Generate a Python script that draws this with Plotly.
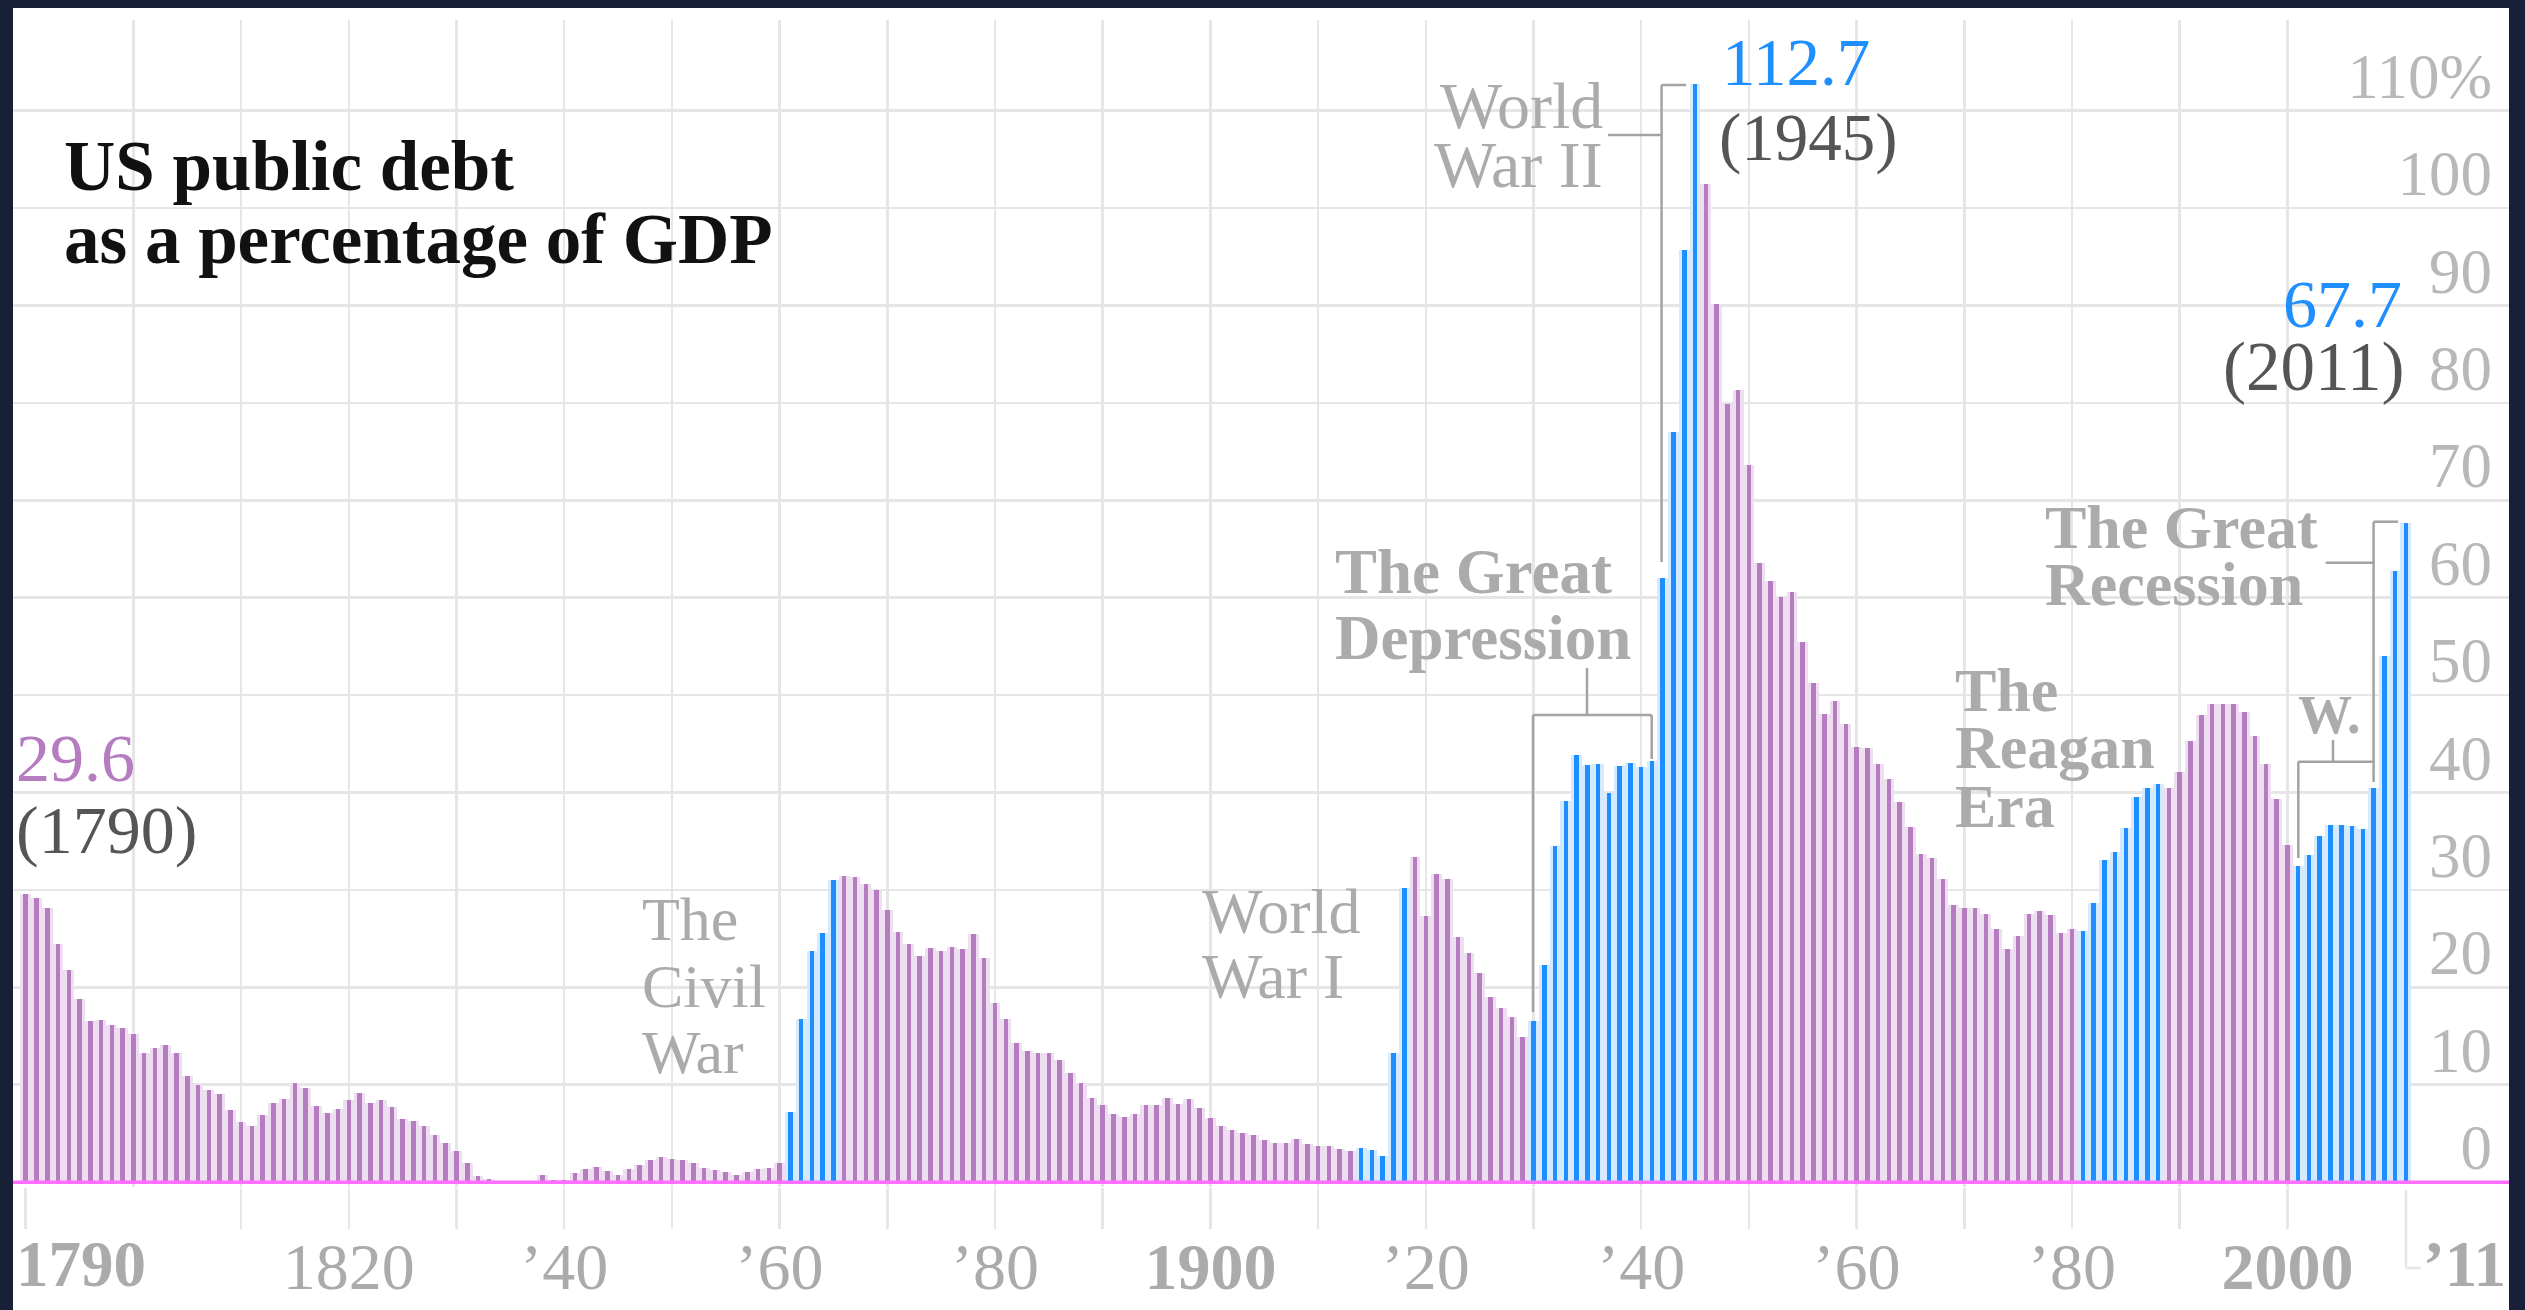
import plotly.graph_objects as go

# ---------------- data ----------------
years = list(range(1790, 2012))

debt_1790_1839 = [29.6, 29.2, 28.1, 24.4, 21.8, 18.8, 16.5, 16.6, 16.1, 15.8,
                  15.2, 13.3, 13.8, 14.1, 13.3, 10.9, 10.0, 9.5, 9.0, 7.4,
                  6.2, 5.8, 6.9, 8.1, 8.5, 10.2, 9.7, 7.8, 7.1, 7.5,
                  8.4, 9.2, 8.1, 8.4, 7.7, 6.5, 6.3, 5.8, 4.8, 4.0,
                  3.2, 2.0, 0.6, 0.3, 0.1, 0.0, 0.0, 0.1, 0.7, 0.2]
debt_1840_1889 = [0.2, 0.9, 1.3, 1.6, 1.1, 0.7, 1.3, 1.8, 2.3, 2.6,
                  2.4, 2.3, 2.0, 1.5, 1.2, 1.0, 0.7, 1.0, 1.3, 1.5,
                  2.0, 7.2, 16.8, 23.7, 25.6, 31.0, 31.4, 31.3, 30.6, 30.0,
                  27.9, 25.7, 24.4, 23.2, 24.0, 23.7, 24.1, 23.9, 25.5, 23.0,
                  18.4, 16.8, 14.3, 13.5, 13.3, 13.3, 12.5, 11.2, 10.2, 8.6]
debt_1890_1939 = [7.9, 7.0, 6.7, 7.0, 7.9, 7.9, 8.6, 8.0, 8.5, 7.6,
                  6.6, 5.8, 5.4, 5.0, 4.8, 4.3, 4.0, 4.0, 4.4, 3.9,
                  3.7, 3.7, 3.4, 3.2, 3.5, 3.3, 2.7, 13.3, 30.2, 33.4,
                  27.3, 31.6, 31.1, 25.2, 23.5, 21.5, 19.0, 17.9, 17.0, 14.9,
                  16.5, 22.3, 34.5, 39.1, 43.9, 42.8, 42.9, 40.0, 42.7, 43.0]
debt_1940_1989 = [42.6, 43.2, 62.0, 77.0, 95.7, 112.7, 102.5, 90.2, 79.9, 81.3,
                  73.6, 63.6, 61.7, 60.1, 60.6, 55.5, 51.2, 48.1, 49.4, 47.0,
                  44.7, 44.6, 42.9, 41.4, 39.0, 36.5, 33.7, 33.3, 31.1, 28.5,
                  28.1, 28.1, 27.5, 26.0, 23.9, 25.3, 27.5, 27.8, 27.4, 25.6,
                  26.0, 25.8, 28.7, 33.1, 33.9, 36.4, 39.5, 40.5, 40.9, 40.5]
debt_1990_2011 = [42.1, 45.3, 48.0, 49.1, 49.1, 49.1, 48.3, 45.8, 42.9, 39.3,
                  34.6, 32.5, 33.6, 35.5, 36.7, 36.7, 36.6, 36.3, 40.5, 54.0,
                  62.7, 67.7]
debt = debt_1790_1839 + debt_1840_1889 + debt_1890_1939 + debt_1940_1989 + debt_1990_2011

# periods drawn in blue: Civil War, WWI, Depression + WWII, Reagan, W. + recession
highlight_periods = [(1861, 1865), (1914, 1918), (1930, 1945), (1981, 1988), (2001, 2011)]

tick_years = [1790] + list(range(1810, 2001, 10))
tick_labels = {1820: "1820", 1840: "’40", 1860: "’60", 1880: "’80",
               1900: "<b>1900</b>", 1920: "’20", 1940: "’40", 1960: "’60",
               1980: "’80", 2000: "<b>2000</b>"}
grid_years = list(range(1800, 2011, 10))
y_ticks = list(range(0, 111, 10))
y_tick_text = [str(v) for v in y_ticks[:-1]] + ["110%"]

# ---------------- style ----------------
SERIF = "Liberation Serif"
PURPLE = "#b67cc0"
BLUE = "#1f8fff"
PURPLE_TINT = "#eddff0"
BLUE_TINT = "#d6eaff"
GRID = "#e6e6e6"
PINK = "#ff6eff"
NOTE = "#ababab"
DARK = "#555555"

FIG_W, FIG_H = 2525, 1310
M_L, M_R, M_T, M_B = 13, 16, 20, 123
PW = FIG_W - M_L - M_R
PH = FIG_H - M_T - M_B
PX_PER_YEAR = 10.77
X1900_PX = 1210.4
X_LO = 1900 - (X1900_PX - M_L) / PX_PER_YEAR
X_HI = 1900 + (FIG_W - M_R - X1900_PX) / PX_PER_YEAR
PX_PER_UNIT = 9.74
Y_LO = -0.5
Y_HI = Y_LO + PH / PX_PER_UNIT


def px_x(px):
    return (px - M_L) / PW


def px_y(py):
    return (FIG_H - M_B - py) / PH


def in_highlight(yr):
    return any(a <= yr <= b for a, b in highlight_periods)


bar_colors = [BLUE if in_highlight(y) else PURPLE for y in years]
tint_colors = [BLUE_TINT if in_highlight(y) else PURPLE_TINT for y in years]

fig = go.Figure()
fig.add_trace(go.Bar(x=years, y=debt, width=1.0,
                     marker=dict(color=tint_colors, line=dict(width=0)),
                     hoverinfo="skip", showlegend=False))
fig.add_trace(go.Bar(x=years, y=debt, width=0.42,
                     marker=dict(color=bar_colors, line=dict(width=0)),
                     showlegend=False))
fig.add_trace(go.Scatter(x=[years[0]], y=[0], xaxis="x2", mode="markers",
                         marker=dict(opacity=0), hoverinfo="skip", showlegend=False))


def label(text, x_px, base_px, size, color, bold=False, anchor="left"):
    t = f"<b>{text}</b>" if bold else text
    return dict(text=t, xref="paper", yref="paper", x=px_x(x_px),
                y=px_y(base_px + 0.216 * size), xanchor=anchor, yanchor="bottom",
                showarrow=False, borderpad=0, borderwidth=0,
                font=dict(family=SERIF, size=size, color=color))


annotations = [
    label("US public debt", 64, 190, 71, "#111111", True),
    label("as a percentage of GDP", 64, 263, 71, "#111111", True),
    label("29.6", 16, 781, 68, PURPLE),
    label("(1790)", 16, 853, 68, DARK),
    label("112.7", 1722, 85, 67, BLUE),
    label("(1945)", 1719, 161, 67, DARK),
    label("67.7", 2402, 327, 68, BLUE, anchor="right"),
    label("(2011)", 2404, 390, 69, DARK, anchor="right"),
    label("The", 642, 940, 62, NOTE),
    label("Civil", 642, 1007, 62, NOTE),
    label("War", 642, 1073, 62, NOTE),
    label("World", 1202, 933, 64, NOTE),
    label("War I", 1202, 998, 64, NOTE),
    label("World", 1603, 128, 66, NOTE, anchor="right"),
    label("War II", 1603, 187, 66, NOTE, anchor="right"),
    label("The Great", 1335, 593, 63, NOTE, True),
    label("Depression", 1335, 659, 63, NOTE, True),
    label("The", 1955, 711, 62, NOTE, True),
    label("Reagan", 1955, 768, 62, NOTE, True),
    label("Era", 1955, 827, 62, NOTE, True),
    label("The Great", 2045, 548, 62, NOTE, True),
    label("Recession", 2045, 605, 62, NOTE, True),
    label("W.", 2298, 733, 54, NOTE, True),
    label("1790", 16, 1286, 65, NOTE, True),
    label("’11", 2423, 1286, 65, NOTE, True),
]


def seg(x0, y0, x1, y1, color="#a3a3a3", width=2.5):
    return dict(type="line", xref="paper", yref="paper",
                x0=px_x(x0), y0=px_y(y0), x1=px_x(x1), y1=px_y(y1),
                line=dict(color=color, width=width), layer="above")


shapes = [
    dict(type="rect", xref="paper", yref="paper", x0=px_x(13), x1=px_x(2509),
         y0=px_y(1310), y1=px_y(8), fillcolor="white", line=dict(width=0), layer="below"),
    dict(type="line", xref="paper", yref="y", x0=0, x1=1, y0=0, y1=0,
         line=dict(color=PINK, width=3.5), layer="above"),
    # World War II bracket
    seg(1608, 135, 1661.6, 135), seg(1661.6, 85, 1661.6, 562), seg(1661.6, 85, 1686, 85),
    # Great Depression bracket
    seg(1533, 715, 1651.7, 715), seg(1533, 715, 1533, 1012), seg(1651.7, 715, 1651.7, 759),
    seg(1587, 715, 1587, 668),
    # W. bracket
    seg(2298.3, 761.7, 2373.6, 761.7), seg(2298.3, 761.7, 2298.3, 858), seg(2333, 761.7, 2333, 740),
    # Great Recession bracket
    seg(2373.6, 521.7, 2373.6, 782), seg(2373.6, 521.7, 2398, 521.7), seg(2325.7, 562.7, 2373.6, 562.7),
    # '11 tick
    seg(2406, 1190, 2406, 1268, color=GRID), seg(2406, 1268, 2421, 1268, color=GRID),
]

fig.update_layout(
    template="none",
    width=FIG_W, height=FIG_H, autosize=False,
    margin=dict(l=M_L, r=M_R, t=M_T, b=M_B, pad=0, autoexpand=False),
    paper_bgcolor="#172036", plot_bgcolor="rgba(0,0,0,0)",
    barmode="overlay", bargap=0, showlegend=False,
    font=dict(family=SERIF, color=NOTE),
    xaxis=dict(range=[X_LO, X_HI], tickmode="array", tickvals=grid_years,
               showticklabels=False, ticks="", showgrid=True, gridcolor=GRID,
               gridwidth=2.5, zeroline=False, showline=False, fixedrange=True,
               automargin=False),
    xaxis2=dict(overlaying="x", anchor="y", side="bottom", range=[X_LO, X_HI],
                tickmode="array", tickvals=tick_years,
                ticktext=[tick_labels.get(y, "") for y in tick_years],
                ticks="outside", ticklen=41, tickwidth=2.5, tickcolor=GRID,
                showgrid=False, zeroline=False, showline=False, fixedrange=True,
                automargin=False, ticklabelstandoff=-19,
                tickfont=dict(family=SERIF, size=66, color=NOTE)),
    yaxis=dict(range=[Y_LO, Y_HI], tickmode="array", tickvals=y_ticks,
               ticktext=y_tick_text, side="right", ticklabelposition="inside",
               ticks="", showgrid=True, gridcolor=GRID, gridwidth=2.5,
               zeroline=False, showline=False, fixedrange=True, automargin=False,
               tickfont=dict(family=SERIF, size=63, color="#b8b8b8"),
               ticklabelshift=-35, ticklabelstandoff=14),
    annotations=annotations,
    shapes=shapes,
)

fig.write_html("out.html", config={"displayModeBar": False, "staticPlot": True},
               post_script="document.body.style.margin='0';document.body.style.overflow='hidden';")
